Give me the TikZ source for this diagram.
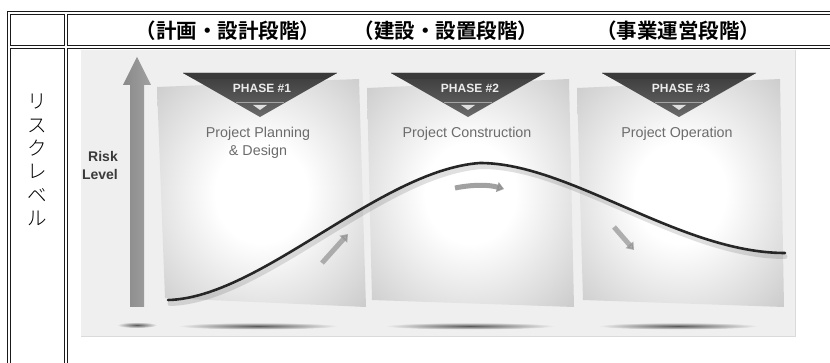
\documentclass[tikz,border=0pt]{standalone}
\usepackage{fontspec}
\setmainfont{Liberation Sans}
\newfontfamily\jpbold{Noto Sans CJK JP Bold}
\newfontfamily\jplight{Noto Sans CJK JP Light}
\usetikzlibrary{arrows.meta}

\definecolor{rule}{HTML}{1A1A1A}
\definecolor{photobg}{HTML}{EFEFEF}
\definecolor{photoedge}{HTML}{DADADA}
\definecolor{riskbar}{HTML}{8A8A8A}
\definecolor{riskbarlt}{HTML}{A0A0A0}
\definecolor{titlegray}{HTML}{6C6C6C}
\definecolor{labeldark}{HTML}{3A3A3A}
\definecolor{bannerdark}{HTML}{3A3A3A}
\definecolor{bannermid}{HTML}{6A6A6A}
\definecolor{curvecol}{HTML}{262626}
\definecolor{hintarrow}{HTML}{8A8A8A}

% soft glow inside each phase card
\pgfdeclareradialshading{cardglow}{\pgfpoint{0bp}{0bp}}{%
  color(0bp)=(white); color(11bp)=(white); color(28bp)=(gray!28);
  color(42bp)=(gray!52); color(50bp)=(gray!60)}

\tikzset{
  tableline/.style={draw=rule, line width=1.1pt},
  hdr/.style={font=\jpbold\fontsize{20.5}{21}\selectfont, text=black, inner sep=0pt},
  sidelabel/.style={font=\jplight\fontsize{19.5}{23.3}\selectfont, align=center, inner sep=0pt},
  phasetxt/.style={font=\bfseries\fontsize{12}{12}\selectfont, text=white!92!black, inner sep=0pt},
  cardtitle/.style={font=\fontsize{14.3}{18}\selectfont, text=titlegray, align=center, inner sep=0pt},
  risklbl/.style={font=\bfseries\fontsize{14}{18}\selectfont, text=labeldark, align=right, inner sep=0pt},
  floorshadow/.style={inner color=black!65, outer color=photobg},
  hint/.style={line width=5pt, draw=hintarrow, -{Triangle[width=10pt,length=7pt]}},
}

\begin{document}
\begin{tikzpicture}[x=1pt,y=-1pt]
\useasboundingbox (0,0) rectangle (830,363);
\clip (0,0) rectangle (830,363);
\fill[white] (0,0) rectangle (830,363);

% ---- table frame (outer border plus one box per cell) ----
\draw[tableline] (7.7,380) -- (7.7,11.5) -- (840,11.5);
\draw[tableline] (10.3,14.7) rectangle (64.5,45.8);
\draw[tableline] (840,14.7) -- (67.5,14.7) -- (67.5,45.8) -- (840,45.8);
\draw[tableline] (10.3,380) -- (10.3,48.8) -- (64.5,48.8) -- (64.5,380);
\draw[tableline] (840,48.8) -- (67.5,48.8) -- (67.5,380);

% ---- header ----
\node[hdr] (h1) at (228,30.5) {（計画・設計段階）};
\node[hdr] (h2) at (446,30.5) {（建設・設置段階）};
\node[hdr] (h3) at (678,30.5) {（事業運営段階）};

% ---- row label, set vertically ----
\node[sidelabel] (side) at (37,160) {リ\\ス\\ク\\レ\\ベ\\ル};

% ---- illustration ----
\fill[photobg] (81,50) rectangle (795,336);
\draw[photoedge, line width=0.8pt] (795,50) -- (795,336) -- (81,336);

% floor shadows
\shade[floorshadow] (137,325) ellipse [x radius=20pt, y radius=3pt];
\shade[floorshadow] (258,326) ellipse [x radius=80pt, y radius=3.5pt];
\shade[floorshadow] (470,326) ellipse [x radius=85pt, y radius=3.5pt];
\shade[floorshadow] (678,326) ellipse [x radius=80pt, y radius=3.5pt];

% risk axis
\shade[left color=riskbar, right color=riskbarlt]
  (130,307) -- (130,85) -- (123,85) -- (137,57) -- (151,85) -- (144,85) -- (144,307) -- cycle;
\node[risklbl, anchor=east] (risk) at (118,165) {Risk\\Level};

% phase cards
\shade[shading=cardglow] (157,87) -- (359,79) -- (366,307) -- (165,298) -- cycle;
\shade[shading=cardglow] (367,88) -- (569,79) -- (574,307) -- (372,300) -- cycle;
\shade[shading=cardglow] (577,88) -- (780,79) -- (784,307) -- (583,300) -- cycle;

% phase banners
\foreach \cx/\num/\nm in {260/1/a, 468/2/b, 679/3/c}{
  \shade[top color=bannerdark, bottom color=bannermid]
    (\cx-77,73) -- (\cx+77,73) -- (\cx,117) -- cycle;
  \fill[bannerdark] (\cx-77,73) -- (\cx+77,73) -- (\cx+66,79) -- (\cx-66,79) -- cycle;
  \draw[white, opacity=0.45, line width=0.8pt] (\cx-24,102) -- (\cx+24,102);
  \fill[gray!25] (\cx-7,105) -- (\cx+7,105) -- (\cx,110) -- cycle;
  \node[phasetxt] (phase\nm) at (\cx+2,88) {PHASE \#\num};
}

\node[cardtitle] (t1) at (258,143) {Project Planning\\\& Design};
\node[cardtitle] (t2) at (467,134) {Project Construction};
\node[cardtitle] (t3) at (677,134) {Project Operation};

% hint arrows
\draw[hint, opacity=0.65] (322,263) -- (348,234);
\draw[hint, opacity=0.8] (455,188) .. controls (475,184) and (490,185) .. (504,189);
\draw[hint, opacity=0.65] (614,227) -- (634,250);

% risk curve with its soft shadow
\draw[black, opacity=0.12, line width=5pt, line cap=round]
  (170,303.5) .. controls (262,301.5) and (382,173.5) .. (482,166.5)
              .. controls (572,166.5) and (682,256.5) .. (785,256.5);
\draw[curvecol, line width=2.6pt, line cap=round]
  (168,300) .. controls (260,298) and (380,170) .. (480,163)
            .. controls (570,163) and (680,253) .. (785,253);
\end{tikzpicture}
\end{document}
